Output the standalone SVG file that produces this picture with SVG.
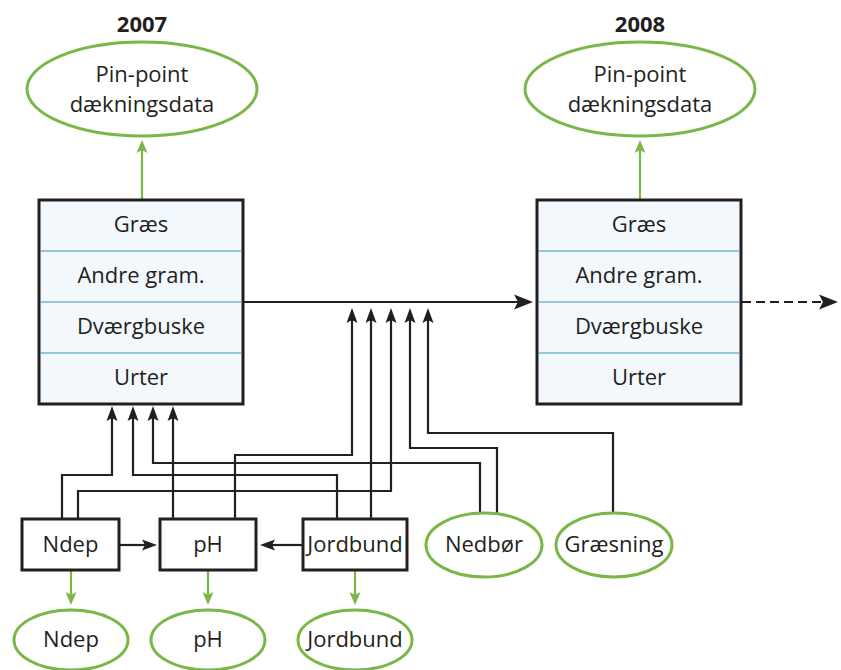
<svg xmlns="http://www.w3.org/2000/svg" width="841" height="670" viewBox="0 0 841 670">
<style>
text{font-family:"Open Sans","Liberation Sans",sans-serif;fill:#231f20;text-anchor:middle;font-size:22px}
.yr{font-weight:bold;font-size:22px}
.box{fill:#f3f8fd;stroke:#231f20;stroke-width:3}
.sbox{fill:#fff;stroke:#231f20;stroke-width:3}
.div{stroke:#3f8fc0;stroke-width:1.2}
.ell{fill:#fff;stroke:#7ab648;stroke-width:3}
.w{fill:none;stroke:#231f20;stroke-width:2.2}
.g{fill:none;stroke:#7ab648;stroke-width:2.2}
</style>
<defs>
<marker id="ah" markerUnits="userSpaceOnUse" viewBox="0 -6 15 12" refX="4" refY="0" markerWidth="15" markerHeight="12" orient="auto">
<path d="M0,-5.5 L15,0 L0,5.5 L3,0 z" fill="#231f20"/>
</marker>
<marker id="ahb" markerUnits="userSpaceOnUse" viewBox="0 -8 19 16" refX="5" refY="0" markerWidth="19" markerHeight="16" orient="auto">
<path d="M0,-7.5 L19,0 L0,7.5 L4,0 z" fill="#231f20"/>
</marker>
<marker id="ag" markerUnits="userSpaceOnUse" viewBox="0 -6 13 12" refX="4" refY="0" markerWidth="13" markerHeight="12" orient="auto">
<path d="M0,-5.5 L13,0 L0,5.5 L3,0 z" fill="#7ab648"/>
</marker>
</defs>

<text class="yr" x="142" y="32">2007</text>
<text class="yr" x="640" y="32">2008</text>

<g id="connectors">
<path class="g" d="M142,200 V149" marker-end="url(#ag)"/>
<path class="g" d="M640,200 V149" marker-end="url(#ag)"/>
<path class="w" d="M244,302 H519" stroke-width="3.5" marker-end="url(#ahb)"/>
<path class="w" d="M742,302 H824" stroke-width="3.5" stroke-dasharray="9,5" marker-end="url(#ahb)"/>
<path class="w" d="M62,519 V475 H112 V417" marker-end="url(#ah)"/>
<path class="w" d="M78,519 V491 H391 V319" marker-end="url(#ah)"/>
<path class="w" d="M173,519 V417" marker-end="url(#ah)"/>
<path class="w" d="M235,519 V455 H352 V319" marker-end="url(#ah)"/>
<path class="w" d="M337,519 V475 H133 V417" marker-end="url(#ah)"/>
<path class="w" d="M371,519 V319" marker-end="url(#ah)"/>
<path class="w" d="M480,513 V463 H153 V417" marker-end="url(#ah)"/>
<path class="w" d="M497,514 V448 H410 V319" marker-end="url(#ah)"/>
<path class="w" d="M613,513 V433 H428 V319" marker-end="url(#ah)"/>
<path class="w" d="M120,545 H146" marker-end="url(#ah)"/>
<path class="w" d="M302,545 H271" marker-end="url(#ah)"/>
<path class="g" d="M71,571 V596" marker-end="url(#ag)"/>
<path class="g" d="M208,571 V596" marker-end="url(#ag)"/>
<path class="g" d="M355,571 V596" marker-end="url(#ag)"/>
</g>

<g id="pin2007">
<ellipse class="ell" cx="142" cy="89" rx="115" ry="47"/>
<text x="142" y="82">Pin-point</text>
<text x="142" y="112">dækningsdata</text>
</g>
<g id="pin2008">
<ellipse class="ell" cx="640" cy="89" rx="115" ry="47"/>
<text x="640" y="82">Pin-point</text>
<text x="640" y="112">dækningsdata</text>
</g>

<g id="veg2007">
<rect class="box" x="39" y="200" width="204" height="204"/>
<line class="div" x1="40.5" y1="251" x2="241.5" y2="251"/>
<line class="div" x1="40.5" y1="302" x2="241.5" y2="302"/>
<line class="div" x1="40.5" y1="353" x2="241.5" y2="353"/>
<text x="141" y="232">Græs</text>
<text x="141" y="283">Andre gram.</text>
<text x="141" y="334">Dværgbuske</text>
<text x="141" y="385">Urter</text>
</g>
<g id="veg2008">
<rect class="box" x="537" y="200" width="204" height="204"/>
<line class="div" x1="538.5" y1="251" x2="739.5" y2="251"/>
<line class="div" x1="538.5" y1="302" x2="739.5" y2="302"/>
<line class="div" x1="538.5" y1="353" x2="739.5" y2="353"/>
<text x="639" y="232">Græs</text>
<text x="639" y="283">Andre gram.</text>
<text x="639" y="334">Dværgbuske</text>
<text x="639" y="385">Urter</text>
</g>

<g id="ndep">
<rect class="sbox" x="22" y="519" width="97" height="51"/>
<text x="70.5" y="552">Ndep</text>
</g>
<g id="ph">
<rect class="sbox" x="160" y="519" width="96" height="51"/>
<text x="208" y="552">pH</text>
</g>
<g id="jordbund">
<rect class="sbox" x="303" y="519" width="104" height="51"/>
<text x="355" y="552">Jordbund</text>
</g>
<g id="nedbor">
<ellipse class="ell" cx="484" cy="545" rx="58" ry="32"/>
<text x="484" y="552">Nedbør</text>
</g>
<g id="graesning">
<ellipse class="ell" cx="614" cy="545" rx="58" ry="32"/>
<text x="614" y="552">Græsning</text>
</g>
<g id="ndep-data">
<ellipse class="ell" cx="71" cy="640" rx="57" ry="30"/>
<text x="71" y="647">Ndep</text>
</g>
<g id="ph-data">
<ellipse class="ell" cx="208" cy="640" rx="57" ry="30"/>
<text x="208" y="647">pH</text>
</g>
<g id="jordbund-data">
<ellipse class="ell" cx="355" cy="640" rx="57" ry="30"/>
<text x="355" y="647">Jordbund</text>
</g>
</svg>
